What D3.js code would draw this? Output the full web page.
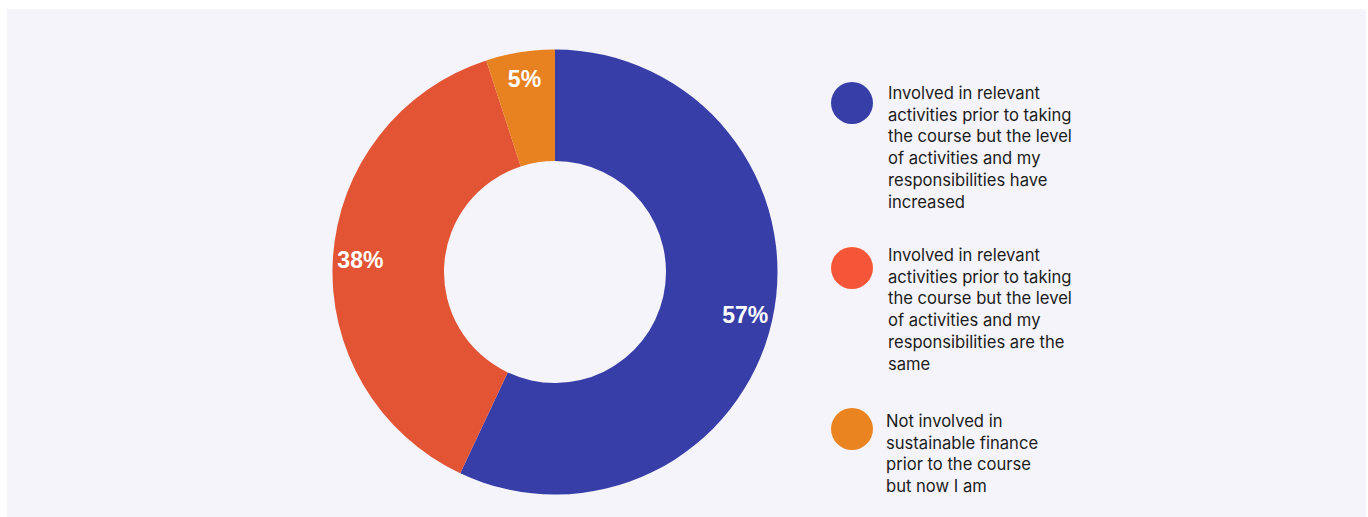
<!DOCTYPE html>
<html>
<head>
<meta charset="utf-8">
<script src="https://cdn.jsdelivr.net/npm/d3@7"></script>
<style>
  html, body { margin: 0; padding: 0; background: #ffffff; }
  svg { display: block; }
</style>
</head>
<body>
<svg id="chart" width="1368" height="517"></svg>
<script>
// Share of respondents by change in sustainable-finance involvement
const categories = [
  "Involved in relevant activities prior to taking the course but the level of activities and my responsibilities have increased",
  "Involved in relevant activities prior to taking the course but the level of activities and my responsibilities are the same",
  "Not involved in sustainable finance prior to the course but now I am"
];
const values = [57, 38, 5];
const valueLabels = ["57%", "38%", "5%"];
const legendLines = [
  ["Involved in relevant", "activities prior to taking", "the course but the level", "of activities and my", "responsibilities have", "increased"],
  ["Involved in relevant", "activities prior to taking", "the course but the level", "of activities and my", "responsibilities are the", "same"],
  ["Not involved in", "sustainable finance", "prior to the course", "but now I am"]
];
const sliceColors = ["#383ea8", "#e25434", "#e88220"];
const legendColors = ["#383ea8", "#f65638", "#e98420"];

const svg = d3.select("#chart");

// panel background
svg.append("rect")
  .attr("x", 7).attr("y", 9)
  .attr("width", 1359).attr("height", 508)
  .attr("fill", "#f5f4fa");

const cx = 555, cy = 272, outerR = 222.5, innerR = 111, labelR = 195;

const pie = d3.pie().sort(null).value(d => d)(values);
const arc = d3.arc().innerRadius(innerR).outerRadius(outerR);
const labelArc = d3.arc().innerRadius(labelR).outerRadius(labelR);

const g = svg.append("g").attr("transform", `translate(${cx},${cy})`);

g.selectAll("path.slice")
  .data(pie)
  .join("path")
  .attr("class", "slice")
  .attr("d", arc)
  .attr("fill", (d, i) => sliceColors[i]);

g.selectAll("text.pct")
  .data(pie)
  .join("text")
  .attr("class", "pct")
  .attr("transform", d => `translate(${labelArc.centroid(d)})`)
  .attr("text-anchor", "middle")
  .attr("dominant-baseline", "central")
  .attr("fill", "#ffffff")
  .attr("font-family", "'Liberation Sans', Arial, sans-serif")
  .attr("font-weight", "bold")
  .attr("font-size", 23)
  .text((d, i) => valueLabels[i]);

// legend
const markerY = [103, 268, 429];
const legendTextY = [93, 255, 421];
const lineH = 21.8;

const items = svg.append("g").selectAll("g")
  .data(categories)
  .join("g");

items.append("circle")
  .attr("cx", 852)
  .attr("cy", (d, i) => markerY[i])
  .attr("r", 21)
  .attr("fill", (d, i) => legendColors[i]);

items.append("text")
  .attr("x", (d, i) => i === 2 ? 886 : 888)
  .attr("y", (d, i) => legendTextY[i])
  .attr("font-family", "Inter, 'Noto Sans', sans-serif")
  .attr("font-size", 16.6)
  .attr("fill", "#1c1c1c")
  .selectAll("tspan")
  .data((d, i) => legendLines[i])
  .join("tspan")
  .attr("x", function () { return d3.select(this.parentNode).attr("x"); })
  .attr("dy", (d, j) => j === 0 ? "0.35em" : lineH)
  .text(d => d);
</script>
</body>
</html>
